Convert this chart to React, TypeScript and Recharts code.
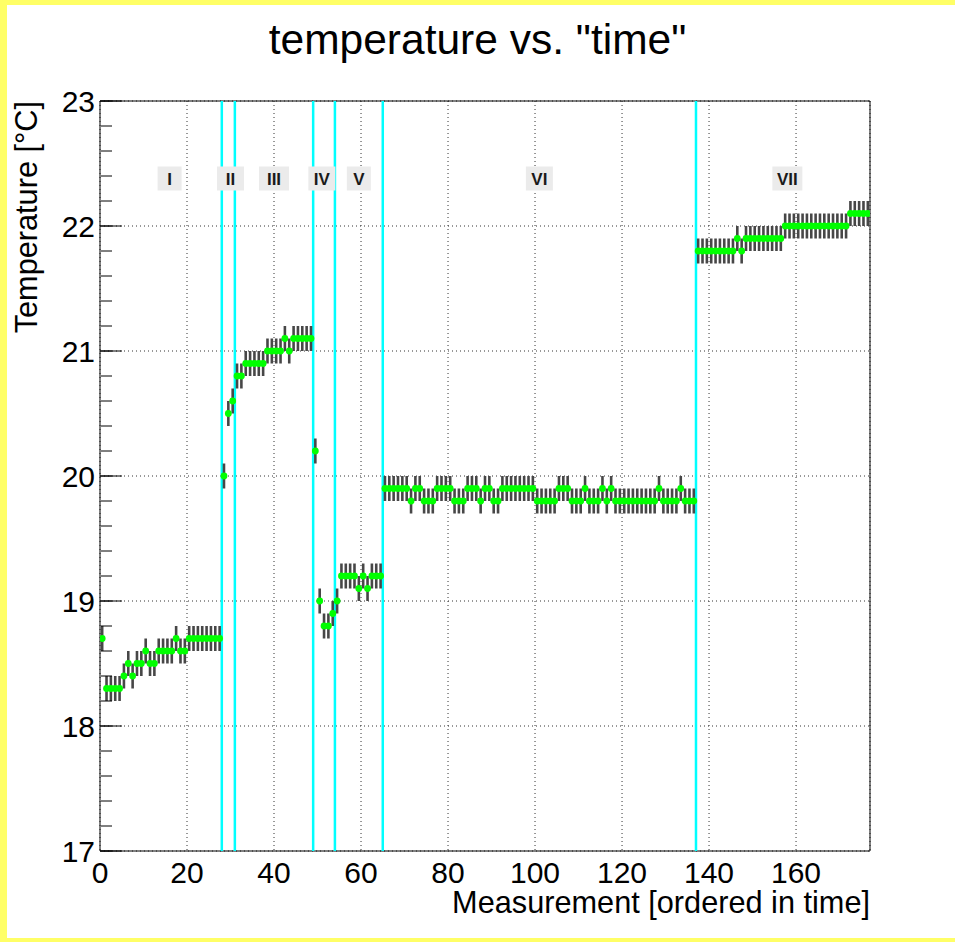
import React from 'react';
import {
  ScatterChart,
  Scatter,
  XAxis,
  YAxis,
  CartesianGrid,
  ErrorBar,
  ReferenceLine,
  ReferenceDot,
  ReferenceArea,
  Label,
} from 'recharts';

const FONT = '"Liberation Sans", Arial, Helvetica, sans-serif';

// Temperature readings [°C] per measurement, grouped by section
const sectionI = [18.7, 18.3, 18.3, 18.3, 18.3, 18.4, 18.5, 18.4, 18.5, 18.5, 18.6, 18.5, 18.5, 18.6,
  18.6, 18.6, 18.6, 18.7, 18.6, 18.6, 18.7, 18.7, 18.7, 18.7, 18.7, 18.7, 18.7, 18.7];
const sectionII = [20.0, 20.5, 20.6];
const sectionIII = [20.8, 20.8, 20.9, 20.9, 20.9, 20.9, 20.9, 21.0, 21.0, 21.0, 21.0, 21.1, 21.0,
  21.1, 21.1, 21.1, 21.1, 21.1];
const sectionIV = [20.2, 19.0, 18.8, 18.8, 18.9];
const sectionV = [19.0, 19.2, 19.2, 19.2, 19.2, 19.1, 19.2, 19.1, 19.2, 19.2, 19.2];
const sectionVI = [
  19.9, 19.9, 19.9, 19.9, 19.9, 19.9, 19.8, 19.9, 19.9, 19.8, 19.8, 19.8,
  19.9, 19.9, 19.9, 19.9, 19.8, 19.8, 19.8, 19.9, 19.9, 19.9, 19.8, 19.9,
  19.9, 19.8, 19.8, 19.9, 19.9, 19.9, 19.9, 19.9, 19.9, 19.9, 19.9, 19.8,
  19.8, 19.8, 19.8, 19.8, 19.9, 19.9, 19.9, 19.8, 19.8, 19.8, 19.9, 19.8,
  19.8, 19.8, 19.9, 19.8, 19.9, 19.8, 19.8, 19.8, 19.8, 19.8, 19.8, 19.8,
  19.8, 19.8, 19.8, 19.9, 19.8, 19.8, 19.8, 19.8, 19.9, 19.8, 19.8, 19.8,
];
const sectionVII = [
  21.8, 21.8, 21.8, 21.8, 21.8, 21.8, 21.8, 21.8, 21.8, 21.9, 21.8,
  21.9, 21.9, 21.9, 21.9, 21.9, 21.9, 21.9, 21.9, 21.9,
  22.0, 22.0, 22.0, 22.0, 22.0, 22.0, 22.0, 22.0, 22.0, 22.0, 22.0, 22.0, 22.0, 22.0, 22.0,
  22.1, 22.1, 22.1, 22.1, 22.1,
];
const temperatureError = 0.1;

// Section boundaries (measurement index) and section tags
const sectionBoundaries = [28, 31, 49, 54, 65, 137];
const sectionNames = ['I', 'II', 'III', 'IV', 'V', 'VI', 'VII'];
const sectionLabelX = [16, 30, 40, 51, 59.5, 101, 158];
const sectionLabelY = 22.38;

// Axes
const xDomain = [0, 177];
const yDomain = [17, 23];
const xTicks = [0, 20, 40, 60, 80, 100, 120, 140, 160];
const xMinorTicks = [0, 5, 10, 15, 20, 25, 30, 35, 40, 45, 50, 55, 60, 65, 70, 75, 80, 85, 90, 95,
  100, 105, 110, 115, 120, 125, 130, 135, 140, 145, 150, 155, 160, 165, 170, 175];
const yTicks = [17, 18, 19, 20, 21, 22, 23];
const yMinorTicks = [17, 17.2, 17.4, 17.6, 17.8, 18, 18.2, 18.4, 18.6, 18.8, 19, 19.2, 19.4, 19.6,
  19.8, 20, 20.2, 20.4, 20.6, 20.8, 21, 21.2, 21.4, 21.6, 21.8, 22, 22.2, 22.4, 22.6, 22.8, 23];

const allTemperatures = [
  ...sectionI, ...sectionII, ...sectionIII, ...sectionIV, ...sectionV, ...sectionVI, ...sectionVII,
];
const data = allTemperatures.map((t, i) => ({ x: i + 0.5, y: t, err: temperatureError }));

const renderMarker = (props: any) => {
  const { cx, cy } = props;
  if (cx == null || cy == null) return <g />;
  return <circle cx={cx} cy={cy} r={3.4} fill="#00ff00" />;
};

const noTickLabel = () => <g />;

const makeTag = (name: string) => (props: any) => {
  const { cx, cy } = props;
  const w = 21 + 3 * name.length;
  const h = 24;
  return (
    <g>
      <rect x={cx - w / 2} y={cy - h / 2} width={w} height={h} fill="#ebebeb" />
      <text
        x={cx}
        y={cy}
        dy="0.36em"
        textAnchor="middle"
        fontWeight="bold"
        fontSize={17}
        fill="#1a1a1a"
        fontFamily={FONT}
      >
        {name}
      </text>
    </g>
  );
};

const renderXTitle = (props: any) => {
  const vb = props.viewBox || {};
  return (
    <text
      x={vb.x + vb.width}
      y={851 + 62}
      textAnchor="end"
      fontSize={30.7}
      fill="#000"
      fontFamily={FONT}
    >
      Measurement [ordered in time]
    </text>
  );
};

const renderYTitle = (props: any) => {
  const vb = props.viewBox || {};
  const cx = 37;
  const cy = vb.y;
  return (
    <text
      x={cx}
      y={cy}
      transform={`rotate(-90 ${cx} ${cy})`}
      textAnchor="end"
      fontSize={30.7}
      fill="#000"
      fontFamily={FONT}
    >
      Temperature [°C]
    </text>
  );
};

export default function App() {
  return (
    <div
      style={{
        position: 'absolute',
        left: 0,
        top: 0,
        width: 955,
        height: 942,
        background: '#ffff66',
        overflow: 'hidden',
        fontFamily: FONT,
      }}
    >
      <div style={{ position: 'absolute', left: 7, top: 5, width: 948, height: 933, background: '#ffffff' }} />
      <div
        style={{
          position: 'absolute',
          left: 0,
          top: 19,
          width: 955,
          textAlign: 'center',
          fontSize: 42.5,
          lineHeight: '42px',
          color: '#000',
        }}
      >
        temperature vs. "time"
      </div>
      <div style={{ position: 'absolute', left: 0, top: 0 }}>
        <ScatterChart
          width={955}
          height={942}
          margin={{ top: 101, right: 85, bottom: 90, left: 99 }}
          style={{ fontFamily: FONT }}
        >
          <CartesianGrid stroke="#333" strokeDasharray="1 3" strokeWidth={1} />
          <XAxis
            type="number"
            dataKey="x"
            domain={xDomain}
            allowDataOverflow
            ticks={xTicks}
            interval={0}
            height={1}
            axisLine={false}
            tickLine={false}
            tickSize={0}
            tickMargin={11}
            tick={{ fontSize: 30, fill: '#000', fontFamily: FONT }}
          >
            <Label content={renderXTitle} />
          </XAxis>
          <XAxis
            xAxisId="major"
            type="number"
            domain={xDomain}
            allowDataOverflow
            ticks={xTicks}
            interval={0}
            height={1}
            mirror
            axisLine={false}
            tick={noTickLabel}
            tickLine={{ stroke: '#000', strokeWidth: 1 }}
            tickSize={22}
          />
          <XAxis
            xAxisId="minor"
            type="number"
            domain={xDomain}
            allowDataOverflow
            ticks={xMinorTicks}
            interval={0}
            height={1}
            mirror
            axisLine={false}
            tick={noTickLabel}
            tickLine={{ stroke: '#000', strokeWidth: 1 }}
            tickSize={11}
          />
          <YAxis
            type="number"
            dataKey="y"
            domain={yDomain}
            allowDataOverflow
            ticks={yTicks}
            interval={0}
            width={1}
            axisLine={false}
            tickLine={false}
            tickSize={0}
            tickMargin={5}
            tick={{ fontSize: 30, fill: '#000', fontFamily: FONT }}
          >
            <Label content={renderYTitle} />
          </YAxis>
          <YAxis
            yAxisId="major"
            type="number"
            domain={yDomain}
            allowDataOverflow
            ticks={yTicks}
            interval={0}
            width={1}
            mirror
            axisLine={false}
            tick={noTickLabel}
            tickLine={{ stroke: '#000', strokeWidth: 1 }}
            tickSize={22}
          />
          <YAxis
            yAxisId="minor"
            type="number"
            domain={yDomain}
            allowDataOverflow
            ticks={yMinorTicks}
            interval={0}
            width={1}
            mirror
            axisLine={false}
            tick={noTickLabel}
            tickLine={{ stroke: '#000', strokeWidth: 1 }}
            tickSize={11}
          />
          {sectionBoundaries.map((b) => (
            <ReferenceLine key={`b${b}`} x={b} stroke="#00ffff" strokeWidth={2.5} />
          ))}
          <Scatter data={data} dataKey="y" isAnimationActive={false} shape={renderMarker}>
            <ErrorBar dataKey="err" direction="y" width={0} stroke="#474747" strokeWidth={2.6} />
          </Scatter>
          {sectionNames.map((name, i) => (
            <ReferenceDot
              key={name}
              x={sectionLabelX[i]}
              y={sectionLabelY}
              r={0}
              shape={makeTag(name)}
            />
          ))}
          <ReferenceArea
            x1={xDomain[0]}
            x2={xDomain[1]}
            y1={yDomain[0]}
            y2={yDomain[1]}
            fill="none"
            stroke="#000"
            strokeWidth={1}
          />
        </ScatterChart>
      </div>
    </div>
  );
}
